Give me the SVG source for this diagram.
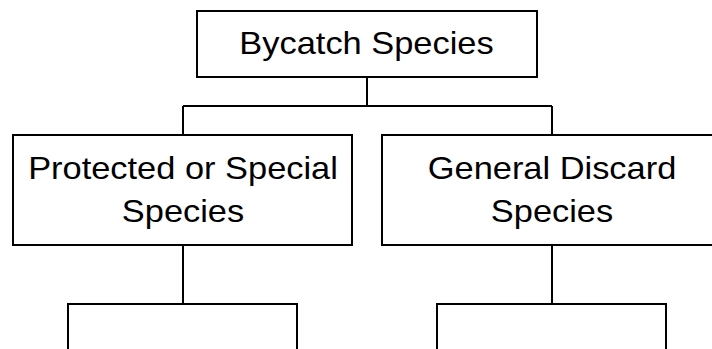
<svg xmlns="http://www.w3.org/2000/svg" width="712" height="349" viewBox="0 0 712 349">
<style>
.box{fill:#ffffff;stroke:#000000;stroke-width:2}
.conn{fill:none;stroke:#000000;stroke-width:2}
.lbl{font-family:"Liberation Sans",Arial,sans-serif;font-size:32px;fill:#000000;text-anchor:middle}
</style>
<rect x="0" y="0" width="712" height="349" fill="#ffffff"/>
<g id="connectors">
<path class="conn" d="M367 77 V106 M183 106 H552 M183 106 V135 M552 106 V135"/>
<path class="conn" d="M183 245 V304 M68 304 H297"/>
<path class="conn" d="M552 245 V304 M437 304 H666"/>
</g>
<g id="bycatch">
<rect class="box" x="197" y="11" width="340" height="66"/>
<text class="lbl" transform="translate(366.5 53.5) scale(1.075 1)">Bycatch Species</text>
</g>
<g id="protected">
<rect class="box" x="13" y="135" width="339" height="110"/>
<text class="lbl" transform="translate(183 178.5) scale(1.075 1)">Protected or Special</text>
<text class="lbl" transform="translate(183 221.5) scale(1.075 1)">Species</text>
</g>
<g id="general">
<rect class="box" x="382" y="135" width="339" height="110"/>
<text class="lbl" transform="translate(552 178.5) scale(1.075 1)">General Discard</text>
<text class="lbl" transform="translate(552 221.5) scale(1.075 1)">Species</text>
</g>
<g id="child-left">
<rect class="box" x="68" y="304" width="229" height="80"/>
</g>
<g id="child-right">
<rect class="box" x="437" y="304" width="229" height="80"/>
</g>
</svg>
